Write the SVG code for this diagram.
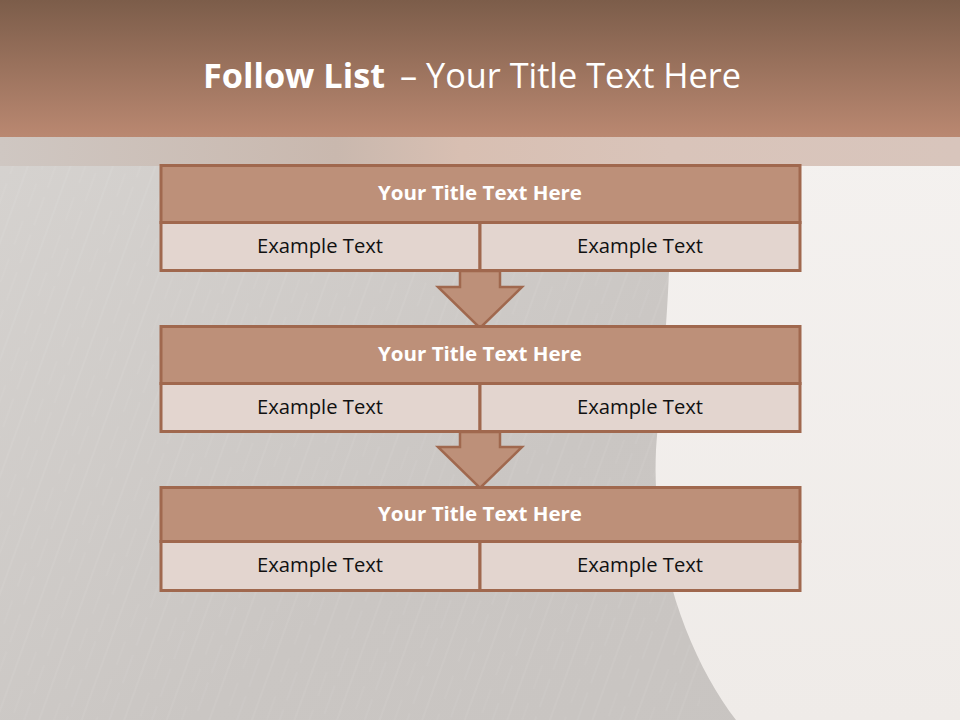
<svg xmlns="http://www.w3.org/2000/svg" width="960" height="720" viewBox="0 0 960 720">
  <defs>
    <linearGradient id="titleGrad" x1="0" y1="0" x2="0" y2="1">
      <stop offset="0" stop-color="#7c5d4a"/>
      <stop offset="1" stop-color="#ba8871"/>
    </linearGradient>
    <linearGradient id="bgGrad" x1="0" y1="0" x2="1" y2="1">
      <stop offset="0" stop-color="#d8d5d2"/>
      <stop offset="0.6" stop-color="#cac6c3"/>
      <stop offset="1" stop-color="#c8c4c1"/>
    </linearGradient>
    <linearGradient id="lightGrad" x1="0" y1="0" x2="0" y2="1">
      <stop offset="0" stop-color="#f4f1ef"/>
      <stop offset="1" stop-color="#efebe8"/>
    </linearGradient>
    <linearGradient id="bandGrad" x1="0" y1="0" x2="1" y2="0">
      <stop offset="0" stop-color="#cfc7c2"/>
      <stop offset="0.35" stop-color="#c9b8ae"/>
      <stop offset="0.48" stop-color="#d8bfb2"/>
      <stop offset="0.7" stop-color="#d9c4ba"/>
      <stop offset="1" stop-color="#d8c5bc"/>
    </linearGradient>
    <pattern id="brush" width="40" height="40" patternUnits="userSpaceOnUse" patternTransform="rotate(20)">
      <line x1="3" y1="0" x2="3" y2="40" stroke="#ffffff" stroke-opacity="0.18" stroke-width="0.6"/>
      <line x1="17" y1="0" x2="17" y2="25" stroke="#ffffff" stroke-opacity="0.12" stroke-width="0.6"/>
      <line x1="29" y1="10" x2="29" y2="40" stroke="#ffffff" stroke-opacity="0.15" stroke-width="0.6"/>
    </pattern>
  </defs>
  <style>
    .hdr { fill: #bd9079; stroke: #a0684e; stroke-width: 3; }
    .row { fill: #e3d5cf; stroke: #a0684e; stroke-width: 3; }
    .arrow { fill: #bd9079; stroke: #a0684e; stroke-width: 2.5; stroke-linejoin: miter; }
    .ht { font-family: "Open Sans", "Noto Sans", "Liberation Sans", sans-serif; font-weight: bold; font-size: 20px; fill: #ffffff; text-anchor: middle; }
    .rt { font-family: "Open Sans", "Noto Sans", "Liberation Sans", sans-serif; font-size: 20px; fill: #111111; text-anchor: middle; }
    .tt { font-family: "Open Sans", "Noto Sans", "Liberation Sans", sans-serif; font-size: 34px; fill: #ffffff; }
  </style>

  <!-- background -->
  <rect x="0" y="0" width="960" height="720" fill="url(#bgGrad)"/>
  <rect x="0" y="137" width="700" height="583" fill="url(#brush)"/>
  <path d="M668 137 C676 250 662 370 656 450 C651 560 690 660 736 720 L960 720 L960 137 Z" fill="url(#lightGrad)"/>
  <rect x="0" y="137" width="960" height="29" fill="url(#bandGrad)"/>

  <!-- title bar -->
  <rect x="0" y="0" width="960" height="137" fill="url(#titleGrad)"/>
  <text class="tt" x="203" y="88" textLength="538" lengthAdjust="spacingAndGlyphs"><tspan font-weight="bold">Follow List</tspan> <tspan dx="6">– Your Title Text Here</tspan></text>

  <!-- connectors -->
  <g id="connectors">
    <polygon class="arrow" points="460,271 500,271 500,287 522,287 480,328 438,287 460,287"/>
    <polygon class="arrow" points="460,432 500,432 500,447 522,447 480,488 438,447 460,447"/>
  </g>

  <!-- node 1 -->
  <g id="node1">
    <rect class="hdr" x="161" y="165.5" width="639" height="57"/>
    <rect class="row" x="161" y="222.5" width="319" height="48"/>
    <rect class="row" x="480" y="222.5" width="320" height="48"/>
    <text class="ht" x="480" y="200" textLength="204" lengthAdjust="spacingAndGlyphs">Your Title Text Here</text>
    <text class="rt" x="320" y="253" textLength="126" lengthAdjust="spacingAndGlyphs">Example Text</text>
    <text class="rt" x="640" y="253" textLength="126" lengthAdjust="spacingAndGlyphs">Example Text</text>
  </g>

  <!-- node 2 -->
  <g id="node2">
    <rect class="hdr" x="161" y="326.5" width="639" height="57"/>
    <rect class="row" x="161" y="383.5" width="319" height="48"/>
    <rect class="row" x="480" y="383.5" width="320" height="48"/>
    <text class="ht" x="480" y="361" textLength="204" lengthAdjust="spacingAndGlyphs">Your Title Text Here</text>
    <text class="rt" x="320" y="414" textLength="126" lengthAdjust="spacingAndGlyphs">Example Text</text>
    <text class="rt" x="640" y="414" textLength="126" lengthAdjust="spacingAndGlyphs">Example Text</text>
  </g>

  <!-- node 3 -->
  <g id="node3">
    <rect class="hdr" x="161" y="487.5" width="639" height="54"/>
    <rect class="row" x="161" y="541.5" width="319" height="49"/>
    <rect class="row" x="480" y="541.5" width="320" height="49"/>
    <text class="ht" x="480" y="521" textLength="204" lengthAdjust="spacingAndGlyphs">Your Title Text Here</text>
    <text class="rt" x="320" y="572" textLength="126" lengthAdjust="spacingAndGlyphs">Example Text</text>
    <text class="rt" x="640" y="572" textLength="126" lengthAdjust="spacingAndGlyphs">Example Text</text>
  </g>
</svg>
